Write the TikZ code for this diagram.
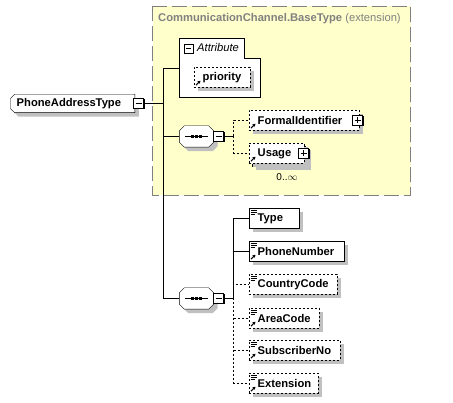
\documentclass[tikz,border=0pt]{standalone}
\usepackage{fontspec}
\setmainfont{Liberation Sans}
\usetikzlibrary{shadows,arrows.meta}

\definecolor{extfill}{RGB}{255,255,204}
\definecolor{extline}{RGB}{128,128,128}
\definecolor{shade}{RGB}{192,192,192}

\pgfdeclarelayer{back}
\pgfsetlayers{back,main}

\newcommand{\txt}{\fontsize{11.2}{13}\selectfont}
\newcommand{\simplemark}[1]{%
  \draw[line width=0.8pt] ([shift={(2,2.5)}]#1.north west) -- ++(6,0)
    ([shift={(2,4.5)}]#1.north west) -- ++(6,0)
    ([shift={(2,6.5)}]#1.north west) -- ++(4,0);}
\newcommand{\refmark}[1]{%
  \draw[line width=1pt, -{Stealth[length=3pt,width=3.5pt]}]
    ([shift={(2.5,-2.5)}]#1.south west) -- ++(4.5,-4.5);}
% octagon outline round a node, #2 = chamfer
\newcommand{\octapath}[2]{([xshift=#2]#1.north west) -- ([xshift=-#2]#1.north east)
    -- ([yshift=-#2]#1.north east) -- ([yshift=#2]#1.south east)
    -- ([xshift=-#2]#1.south east) -- ([xshift=#2]#1.south west)
    -- ([yshift=#2]#1.south west) -- ([yshift=-#2]#1.north west) -- cycle}
\newcommand{\leftchamf}[2]{([xshift=#2]#1.north west) -- (#1.north east) -- (#1.south east)
    -- ([xshift=#2]#1.south west) -- ([yshift=#2]#1.south west) -- ([yshift=-#2]#1.north west) -- cycle}

\tikzset{
  shade box/.style={general shadow={fill=shade, shadow xshift=4pt, shadow yshift=-4pt}},
  shade shift/.style={fill=shade, transform canvas={shift={(4pt,-4pt)}}},
  elem/.style={draw, fill=white, shade box, minimum height=20pt, inner xsep=9pt,
    inner ysep=0pt, align=left, anchor=west, font=\bfseries\txt},
  opt/.style={dash pattern=on 2pt off 2pt},
  pm/.style={draw, fill=white, minimum size=10pt, inner sep=0pt,
    general shadow={fill=black, shadow xshift=1pt, shadow yshift=-1pt}},
  minus/.style={pm, path picture={
    \draw ([xshift=2pt]path picture bounding box.west) -- ([xshift=-2pt]path picture bounding box.east);}},
  plus/.style={pm, path picture={
    \draw ([xshift=2pt]path picture bounding box.west) -- ([xshift=-2pt]path picture bounding box.east);
    \draw ([yshift=-2pt]path picture bounding box.north) -- ([yshift=2pt]path picture bounding box.south);}},
  seqbox/.style={minimum width=34pt, minimum height=21pt, inner sep=0pt},
}

\begin{document}
\begin{tikzpicture}[x=1pt, y=-1pt, line width=1pt]
    \useasboundingbox (0,0) rectangle (453,403);

    % extension base
    \begin{pgfonlayer}{back}
    \draw[extline, fill=extfill, dash pattern=on 15pt off 5pt] (152.5,6.5) rectangle (410.5,195.5);
    \end{pgfonlayer}
    \node[anchor=west, inner sep=0pt, text=extline, font=\txt] (ext-title) at (158,19)
        {\textbf{CommunicationChannel.BaseType} (extension)};

    % root
    \node[anchor=west, minimum height=18pt, inner xsep=6pt, inner ysep=0pt,
        text width=112pt, font=\bfseries\txt] (pa) at (10.5,103.5) {PhoneAddressType};
    \node[minus] (pa-m) at (138.5,103.5) {};

    % attributes
    \draw[fill=white] (179.5,38.5) -- (244.5,38.5) -- (244.5,58.5) -- (260.5,58.5)
        -- (260.5,97.5) -- (179.5,97.5) -- cycle;
    \coordinate (attr) at (179.5,68.5);
    \node[draw, fill=white, minimum size=9pt, inner sep=0pt,
        path picture={\draw ([xshift=2pt]path picture bounding box.west) -- ([xshift=-2pt]path picture bounding box.east);}]
        (attr-m) at (188.5,48.5) {};
    \node[anchor=west, inner sep=0pt, font=\itshape\txt] (attr-title) at (197,48) {Attribute};
    \node[elem, opt, text width=38pt] (priority) at (193.5,77.5) {priority};
    \refmark{priority}

    % first sequence
    \node[seqbox] (seq1) at (196.5,136.5) {};
    \node[minus] (seq1-m) at (218.5,136.5) {};
    \node[elem, opt, text width=92pt] (formal) at (248.5,120.5) {FormalIdentifier};
    \node[plus] (formal-p) at (357.5,120.5) {};
    \refmark{formal}
    \node[draw, fill=white, opt, shade box, anchor=west, minimum height=20pt, minimum width=55pt]
        (usage-b) at (251.5,156.5) {};
    \node[elem, opt, text width=37pt, general shadow={}] (usage) at (248.5,153.5) {Usage};
    \node[plus] (usage-p) at (303.5,153.5) {};
    \refmark{usage}
    \node[font=\fontsize{10}{12}\selectfont, inner sep=0pt] (usage-occ) at (287,177) {0..$\infty$};

    % second sequence
    \node[seqbox] (seq2) at (196.5,298.5) {};
    \node[minus] (seq2-m) at (218.5,298.5) {};
    \node[elem, text width=32pt] (type) at (248.5,218.5) {Type};
    \node[elem, text width=77pt] (phone) at (248.5,251.5) {PhoneNumber};
    \node[elem, opt, text width=70pt] (country) at (248.5,284.5) {CountryCode};
    \node[elem, opt, text width=52pt] (area) at (248.5,318.5) {AreaCode};
    \node[elem, opt, text width=73pt] (subscriber) at (248.5,350.5) {SubscriberNo};
    \node[elem, opt, text width=51pt] (extension) at (248.5,383.5) {Extension};
    \foreach \n in {type,phone,country,area,subscriber,extension} {\simplemark{\n}}
    \foreach \n in {phone,area,subscriber,extension} {\refmark{\n}}

    % shapes behind the root and the sequences
    \begin{pgfonlayer}{back}
    \fill[shade shift] \leftchamf{pa}{4pt};
    \draw[fill=white] \leftchamf{pa}{4pt};
    \foreach \s in {seq1,seq2} {
        \fill[shade shift] \octapath{\s}{5pt};
        \draw[fill=white] \octapath{\s}{5pt};
    }
    \end{pgfonlayer}
    \foreach \s in {seq1,seq2} {
        \draw ([xshift=6pt]\s.west) -- ([xshift=-6pt]\s.east);
        \foreach \d in {-4,0,4}
            \fill ([xshift=\d pt]\s.center) +(-1.3,-1.5) rectangle +(1.3,1.5);
    }

    % connectors
    \coordinate (fork) at (163.5,103.5);
    \coordinate (b1) at (233.5,136.5);
    \coordinate (b2) at (233.5,298.5);
    \draw (pa-m) -- (fork);
    \draw (attr) -| (fork) |- (seq2.west);
    \draw (fork) |- (seq1.west);
    \draw (seq1-m) -- (b1);
    \draw[opt] (b1) |- (formal.west);
    \draw[opt] (b1) |- (usage.west);
    \draw (seq2-m) -- (b2);
    \draw (b2) |- (type.west);
    \draw (b2) |- (phone.west);
    \foreach \n in {country,area,subscriber,extension} {\draw[opt] (b2) |- (\n.west);}

\end{tikzpicture}
\end{document}
